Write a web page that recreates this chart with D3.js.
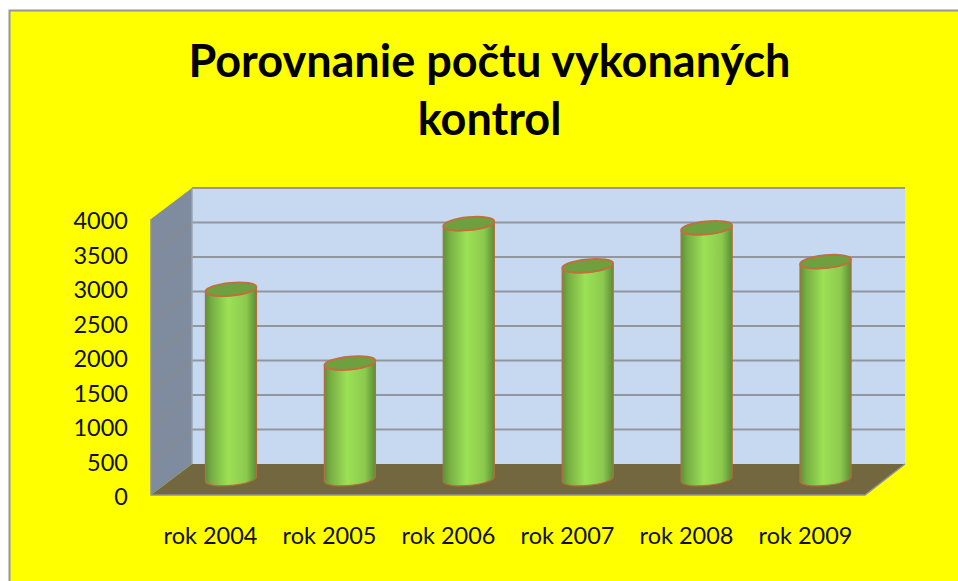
<!DOCTYPE html>
<html>
<head>
<meta charset="utf-8">
<script src="https://d3js.org/d3.v7.min.js"></script>
<style>
  html, body { margin: 0; padding: 0; background: #fff; }
  svg { display: block; }
  text { font-family: Lato, "Open Sans", sans-serif; fill: #111; }
</style>
</head>
<body>
<div id="chart"></div>
<script>
var years = ["rok 2004", "rok 2005", "rok 2006", "rok 2007", "rok 2008", "rok 2009"];
var kontroly = [2750, 1680, 3700, 3090, 3640, 3150];
var yTicks = [0, 500, 1000, 1500, 2000, 2500, 3000, 3500, 4000];
var titleLines = ["Porovnanie počtu vykonaných", "kontrol"];

var svgWidth = 958;
var svgHeight = 581;

var svg = d3.select("#chart")
  .append("svg")
  .attr("width", svgWidth)
  .attr("height", svgHeight);

// the 3D box is three planes: front edge, middle (bars) and back wall
var xFront = d3.scaleBand().domain(years).range([151, 865]);
var xMid = d3.scaleBand().domain(years).range([171.5, 885]);
var xBack = d3.scaleBand().domain(years).range([192, 905]);

var yFront = d3.scaleLinear().domain([0, 4000]).range([495, 219]);
var yMid = d3.scaleLinear().domain([0, 4000]).range([479, 203]);
var yBack = d3.scaleLinear().domain([0, 4000]).range([464, 188]);

var defs = svg.append("defs");
var grad = defs.append("linearGradient").attr("id", "cyl");
grad.append("stop").attr("offset", "0%").attr("stop-color", "#5d9238");
grad.append("stop").attr("offset", "12%").attr("stop-color", "#77ae42");
grad.append("stop").attr("offset", "45%").attr("stop-color", "#9ce155");
grad.append("stop").attr("offset", "80%").attr("stop-color", "#8cc94e");
grad.append("stop").attr("offset", "100%").attr("stop-color", "#5a8e37");

// background and frame
svg.append("rect")
  .attr("x", 9.5)
  .attr("y", 10.5)
  .attr("width", svgWidth)
  .attr("height", svgHeight)
  .attr("fill", "#ffff00")
  .attr("stroke", "#969696")
  .attr("stroke-width", 2);

// title
svg.append("g").selectAll("text")
  .data(titleLines)
  .enter()
  .append("text")
  .attr("x", 489.5)
  .attr("y", (d, i) => 77 + i * 58)
  .attr("text-anchor", "middle")
  .attr("font-size", 45)
  .attr("font-weight", 700)
  .style("fill", "#000")
  .text(d => d);

var x0 = xBack.range()[0], x1 = xBack.range()[1];
var f0 = xFront.range()[0], f1 = xFront.range()[1];
var yMax = 4000, yMin = 0;

// back wall
svg.append("rect")
  .attr("x", x0)
  .attr("y", yBack(yMax))
  .attr("width", x1 - x0)
  .attr("height", yBack(yMin) - yBack(yMax))
  .attr("fill", "#c6d9f1");

// left wall
svg.append("polygon")
  .attr("points", [[f0, yFront(yMax)], [x0, yBack(yMax)], [x0, yBack(yMin)], [f0, yFront(yMin)]].join(" "))
  .attr("fill", "#7f8c9f");

// floor
svg.append("polygon")
  .attr("points", [[f0, yFront(yMin)], [x0, yBack(yMin)], [x1, yBack(yMin)], [f1, yFront(yMin)]].join(" "))
  .attr("fill", "#736740");

// grid lines on the back wall
svg.append("g").selectAll("line")
  .data(yTicks.filter(d => d > 0))
  .enter()
  .append("line")
  .attr("x1", x0)
  .attr("x2", x1)
  .attr("y1", d => yBack(d))
  .attr("y2", d => yBack(d))
  .attr("stroke", "#92969e")
  .attr("stroke-width", 2.2);

// grid lines on the side wall
svg.append("g").selectAll("line")
  .data(yTicks.filter(d => d > 0 && d < 4000))
  .enter()
  .append("line")
  .attr("x1", f0)
  .attr("x2", x0)
  .attr("y1", d => yFront(d))
  .attr("y2", d => yBack(d))
  .attr("stroke", "#8b8a88")
  .attr("stroke-width", 1.2);

// edges of the box
svg.append("path")
  .attr("d", `M${f0},${yFront(yMax)}L${f0},${yFront(yMin)}L${f1},${yFront(yMin)}L${x1},${yBack(yMin)}`)
  .attr("fill", "none")
  .attr("stroke", "#8e9299")
  .attr("stroke-width", 1.5);
svg.append("line")
  .attr("x1", x0).attr("x2", x0)
  .attr("y1", yBack(yMax)).attr("y2", yBack(yMin))
  .attr("stroke", "#98a4b4")
  .attr("stroke-width", 1.5);

// cylinders
var rx = 25.5, ry = 6.4, tilt = -5.5;
var dy = 2.5;
var bars = svg.append("g").selectAll("g")
  .data(years)
  .enter()
  .append("g")
  .attr("class", "bar");

function cx(d) { return xMid(d) + xMid.bandwidth() / 2; }

bars.append("path")
  .attr("d", function(d, i) {
    var yt = yMid(kontroly[i]), yb = yMid(0);
    var l = cx(d) - rx, r = cx(d) + rx;
    return `M${l},${yt + dy}L${l},${yb + dy}A${rx},${ry} ${tilt} 0 0 ${r},${yb - dy}L${r},${yt - dy}A${rx},${ry} ${tilt} 0 1 ${l},${yt + dy}Z`;
  })
  .attr("fill", "url(#cyl)")
  .attr("stroke", "#b0703c")
  .attr("stroke-width", 1.3);

bars.append("ellipse")
  .attr("cx", 0)
  .attr("cy", 0)
  .attr("rx", rx)
  .attr("ry", ry)
  .attr("transform", (d, i) => `translate(${cx(d)},${yMid(kontroly[i])}) rotate(${tilt})`)
  .attr("fill", "#6fa03f")
  .attr("stroke", "#bf703c")
  .attr("stroke-width", 2);

// axes
var leftAxis = d3.axisLeft(yFront).tickValues(yTicks).tickFormat(d3.format("d")).tickSize(0).tickPadding(0);
var yAxis = svg.append("g")
  .attr("transform", "translate(128, 2)")
  .call(leftAxis);
yAxis.select(".domain").remove();
yAxis.selectAll("text")
  .attr("font-size", 23.5)
  .style("font-family", "Lato, sans-serif");

var bottomAxis = d3.axisBottom(xFront).tickSize(0).tickPadding(0);
var xAxis = svg.append("g")
  .attr("transform", "translate(0, 527)")
  .call(bottomAxis);
xAxis.select(".domain").remove();
xAxis.selectAll("text")
  .attr("font-size", 23.5)
  .style("font-family", "Lato, sans-serif");
</script>
</body>
</html>
